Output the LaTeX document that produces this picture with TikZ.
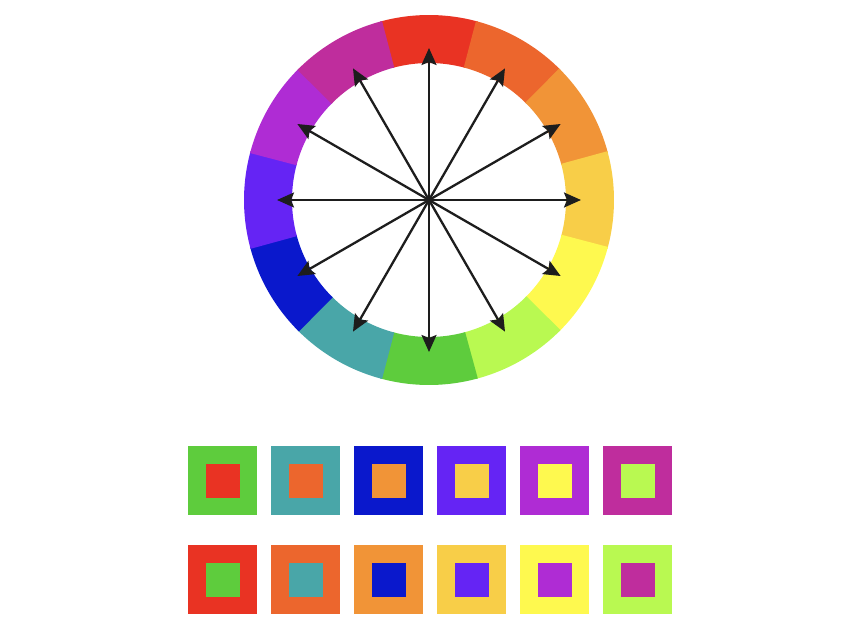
\documentclass[tikz,border=0pt]{standalone}
\usepackage{xcolor}
\usepackage{tikz}
\usetikzlibrary{arrows.meta, positioning}

\definecolor{hueRed}{HTML}{E93323}
\definecolor{hueRedOrange}{HTML}{EC662D}
\definecolor{hueOrange}{HTML}{F19437}
\definecolor{hueYellowOrange}{HTML}{F8CE48}
\definecolor{hueYellow}{HTML}{FEF94F}
\definecolor{hueYellowGreen}{HTML}{B9F951}
\definecolor{hueGreen}{HTML}{5ECC3D}
\definecolor{hueTeal}{HTML}{49A6A8}
\definecolor{hueBlue}{HTML}{0A18CC}
\definecolor{hueViolet}{HTML}{6524F4}
\definecolor{huePurple}{HTML}{AF2CD4}
\definecolor{hueMagenta}{HTML}{BF2D9D}
\definecolor{spokeGray}{HTML}{1D1D1D}

\begin{document}
\begin{tikzpicture}[
      x=1pt, y=1pt,
      swatch/.style={rectangle, draw=none, inner sep=0pt, minimum size=69pt},
      chip/.style={rectangle, draw=none, inner sep=0pt, minimum size=34pt},
      spoke/.style={draw=spokeGray, line width=2.3pt,
        -{Stealth[length=17pt, width=15pt, inset=3pt]}}
    ]
      \useasboundingbox (0,0) rectangle (860,633);
      \coordinate (hub) at (429,433);

      % colour wheel, clockwise from the top
      \begin{scope}[shift={(hub)}]
        \foreach \c [count=\i from 0] in {hueRed, hueRedOrange, hueOrange,
            hueYellowOrange, hueYellow, hueYellowGreen, hueGreen, hueTeal,
            hueBlue, hueViolet, huePurple, hueMagenta} {
          \fill[\c] ({105.3-30*\i}:185) arc[start angle={105.3-30*\i},
              end angle={74.7-30*\i}, radius=185]
            -- ({74.7-30*\i}:137) arc[start angle={74.7-30*\i},
              end angle={105.3-30*\i}, radius=137] -- cycle;
          \coordinate (tip\i) at ({90-30*\i}:152);
        }
      \end{scope}
      \foreach \i in {0,...,11}
        \draw[spoke] (hub) -- (tip\i);

      % complementary pairs
      \foreach \outer/\inner [count=\i from 0] in {hueGreen/hueRed,
          hueTeal/hueRedOrange, hueBlue/hueOrange, hueViolet/hueYellowOrange,
          huePurple/hueYellow, hueMagenta/hueYellowGreen} {
        \node[swatch, fill=\outer] (upper\i) at ({222.5+83*\i},152.5) {};
        \node[chip, fill=\inner] (upperchip\i) at (upper\i) {};
        \node[swatch, fill=\inner] (lower\i) at ({222.5+83*\i},53.5) {};
        \node[chip, fill=\outer] (lowerchip\i) at (lower\i) {};
      }
    \end{tikzpicture}
\end{document}
